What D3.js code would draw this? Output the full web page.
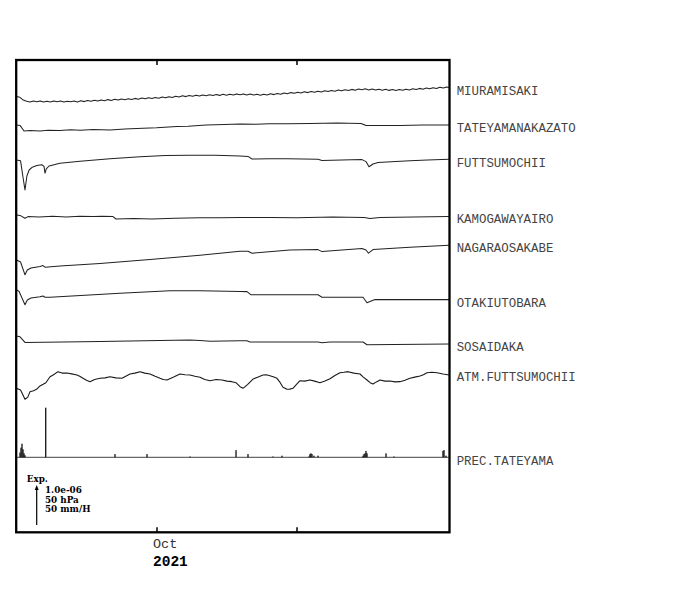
<!DOCTYPE html>
<html><head><meta charset="utf-8">
<script src="https://cdn.jsdelivr.net/npm/d3@7"></script>
<style>
html,body{margin:0;padding:0;background:#fff;}
svg{display:block;}
</style></head>
<body>
<div id="chart"></div>
<script>
// ---------- DATA ----------
const startDate = new Date(2021, 7, 31);   // Aug 31 2021
const spanDays = 95.88;
const tickDates = [new Date(2021, 9, 1), new Date(2021, 10, 1)];
const tickLabels = ["Oct", ""];
const yearLabel = "2021";

const stationNames = ["MIURAMISAKI","TATEYAMANAKAZATO","FUTTSUMOCHII","KAMOGAWAYAIRO",
  "NAGARAOSAKABE","OTAKIUTOBARA","SOSAIDAKA","ATM.FUTTSUMOCHII","PREC.TATEYAMA"];

// strain, units of 1e-8, sampled every 0.75 day
const miuraStep = 0.75;
const miuraVals = [0,-2,-9,-12,-13.5,-11.5,-13,-11,-14,-12,-13.5,-11,-13,-11.5,-14,-12,-13,-11.5,
  -13.5,-10.8,-12.8,-10,-12,-9.5,-11.5,-8.5,-10.5,-7.8,-9.8,-7,-9,-6.2,-8.2,-5.4,-7.4,-4.7,
  -6.7,-3.9,-5.9,-3.1,-5.1,-2.3,-4.3,-1.5,-3.4,-0.5,-2.4,0.5,-1.4,1.6,-0.3,2.6,0.7,3.4,
  1.3,3.9,1.8,4.4,2.3,4.9,2.8,5.4,3.3,5.9,3.8,6.5,4.3,6.5,3.9,6.1,3.6,5.8,3.2,5.6,
  3.7,6.6,4.7,7.6,5.8,8.7,6.8,9.7,7.9,10.8,8.8,11.7,9.7,12.5,10.6,13.4,11.4,14.3,12.3,
  15.2,13.2,16,14.1,16.9,14.9,17.8,15.8,18.6,16.7,19.1,16.5,18.7,16.1,18.3,15.7,17.9,15.3,
  17.5,14.9,17.5,15.6,18.4,16.5,19.4,17.4,20.3,18.3,21.2,19.3,22.1,20.1,23,21,23.8,22];

// [day offset, strain 1e-8]
const tateyama = [[0,0],[0.78,-1],[1.66,-15],[3.0,-14],[5.2,-15],[7,-13],[9.6,-14],[12,-12],[14.1,-13],[17,-11],[20.7,-12.5],
  [24,-10],[28,-8],[31,-7],[35.5,-4],[38,-3],[42,0],[46,1],[49.5,2.5],[53,2],[56,3],[60,3],[65,4],[71,5],[76.3,4],
  [77.4,-1.5],[81,-1],[85,-1],[90,0],[95.8,0]];
const futtsu = [[0,0],[0.9,-2],[1.4,-40],[1.88,-75],[2.3,-40],[2.8,-25],[3.5,-18],[4.5,-14],[5.6,-12],[6.1,-16],
  [6.31,-33],[6.6,-22],[7.2,-15],[9.63,-8],[14.06,-3],[20.7,3],[27.35,8],[33,11],[38.42,12],[44,12],[49.49,10],
  [51.26,9],[52.15,2.5],[56,3],[60,3],[66.76,2],[67.64,-1],[72,0],[76.51,1],[77.39,-4],[78.05,-17],[78.94,-10],
  [80.05,-6],[84,-4],[87.13,-2],[91,0],[95.8,2]];
const kamogawa = [[0,0],[0.78,-1],[1.88,-8],[2.55,-4],[5,-5],[8,-3],[11,-5],[14,-3],[17,-4],[19,-3],[21.37,-4],
  [22.03,-10],[26,-9],[30,-10],[35,-8],[40.63,-7],[45,-7],[49.49,-6],[56,-6],[62,-7],[70,-5],[77,-6],[78.28,-9],
  [80.49,-6],[88,-5],[95.8,-4]];
const nagara = [[0,0],[0.9,-5],[1.88,-37],[2.4,-25],[3.2,-20],[5.2,-16],[5.87,-14],[6.31,-18],[9.63,-15],[18.49,-9],
  [29.56,1],[40.63,12],[49.49,22],[51.26,22],[52.15,17],[60.56,25],[66.76,26],[67.64,21],[76.51,29],[77.39,25],
  [77.94,17],[78.94,26],[87.13,32],[95.8,37]];
const otaki = [[0,0],[0.55,-3],[1.88,-37],[2.4,-25],[3.2,-20],[5.2,-17],[5.87,-15],[6.31,-18],[7.42,-18],[22.92,-8],
  [33.99,-2],[40.63,-2],[49.49,-4],[51.04,-4],[51.93,-12],[66.76,-12],[67.64,-18],[76.73,-18],[77.61,-32],
  [79.38,-24],[95.8,-24]];
const sosai = [[0,0],[0.78,-2],[1.88,-16],[18.49,-14],[38.42,-10],[40.63,-11],[42.85,-13],[49.49,-12],[51.04,-12],
  [51.7,-15],[66.76,-15],[67.64,-17],[69.42,-15],[76.73,-15],[77.61,-22],[95.8,-20]];
// air pressure, hPa
const atm = [[0,1010],[0.9,1008],[1.88,996.3],[2.5,999],[2.99,1005.8],[3.8,1007],[4.5,1009],[5.2,1012.9],[5.9,1015],
  [6.5,1017],[7.42,1024.5],[8.2,1027],[9.19,1030.8],[10.1,1029],[11.18,1029.1],[12.2,1028],[13.4,1026.6],[14.0,1025],
  [14.72,1022.5],[15.5,1020],[16.28,1018.3],[17.3,1021],[18.49,1022.5],[19.6,1023],[20.7,1024.5],[22.0,1023],
  [23.36,1022.5],[24.2,1025],[25.13,1027.9],[26.2,1029],[27.35,1030.8],[28.4,1029],[29.56,1027.9],[30.7,1025],
  [31.78,1022.5],[32.5,1021],[33.33,1020.4],[34.8,1024],[36.2,1027.9],[37.3,1027],[38.42,1026.6],[39.5,1025],
  [40.63,1023.8],[41.7,1021],[42.85,1019.5],[44.2,1021],[45.5,1020.4],[46.6,1019],[47.72,1018.3],[48.6,1017],
  [49.5,1012],[50.16,1010],[51.2,1015],[52.37,1021.6],[53.5,1024],[54.58,1026.6],[55.3,1027],[56.13,1025.8],
  [57.0,1024],[57.68,1022.5],[58.4,1017],[59.01,1011.3],[59.89,1008.8],[60.5,1009],[61.22,1010],[62.0,1015],
  [62.77,1019.5],[63.8,1019],[64.98,1020.4],[66.0,1019],[67.2,1017],[68.3,1019],[69.42,1022],[70.5,1026],
  [71.63,1029.5],[72.5,1030],[73.4,1030.8],[74.7,1029],[76.06,1027.9],[76.8,1024],[77.61,1020.4],[78.3,1017],
  [78.94,1015.4],[79.7,1018],[80.49,1020.4],[81.6,1019],[82.7,1019.1],[83.8,1018],[84.92,1018.3],[86.0,1020],
  [87.13,1022.5],[88.2,1024],[89.35,1025.4],[90.1,1027],[90.9,1029.5],[92.0,1030],[93.11,1029.5],[94.44,1027.9],
  [95.77,1026.6]];
// precipitation, mm/h
const prec = [[0.78,6],[1.0,12],[1.22,17],[1.44,10],[1.66,5],[1.88,2.5],[6.47,62],[21.81,4],[28.9,4],[38.42,1],
  [48.61,9],[51.26,4],[56.8,1],[58.79,2],[64.76,1],[64.98,4],[65.2,5],[65.43,4],[65.87,2],[66.76,2],[76.73,2],
  [76.95,4],[77.17,5],[77.39,8],[77.61,5],[81.82,5],[83.59,1],[94.44,8],[94.66,9],[95.1,2]];

const scaleLabels = ["Exp.", "1.0e-06", "50 hPa", "50 mm/H"];

// ---------- LAYOUT ----------
const W = 700, H = 590;
const frame = {x0: 16.2, x1: 449.5, y0: 60, y1: 532.3};
const laneBase = [96.5, 125, 160, 215, 260, 290, 336, 388.3];
const labelY = [91.7, 128.5, 164, 220, 248.5, 303.5, 347.5, 377.5, 461.5];
const precBase = 457.3;
const DAY = 86400000;
const toDate = d => new Date(startDate.getTime() + d * DAY);

const svg = d3.select("#chart").append("svg").attr("width", W).attr("height", H);

const x = d3.scaleTime().domain([startDate, toDate(spanDays)]).range([16.5, 449.5]);
const yStrain = d3.scaleLinear().domain([0, 100]).range([0, -40]);   // 1e-6 -> 40px
const yPress = d3.scaleLinear().domain([0, 50]).range([0, -40]);     // 50 hPa -> 40px
const yPrec = d3.scaleLinear().domain([0, 50]).range([0, -40]);      // 50 mm/H -> 40px

svg.append("clipPath").attr("id", "clip").append("rect")
  .attr("x", frame.x0).attr("y", frame.y0).attr("width", frame.x1 - frame.x0).attr("height", frame.y1 - frame.y0);

const plot = svg.append("g").attr("clip-path", "url(#clip)");

const strainSeries = [
  miuraVals.map((v, i) => [i * miuraStep, v]),
  tateyama, futtsu, kamogawa, nagara, otaki, sosai
];

strainSeries.forEach((s, i) => {
  const line = d3.line().x(d => x(toDate(d[0]))).y(d => laneBase[i] + yStrain(d[1]));
  plot.append("path").datum(s).attr("d", line)
    .attr("fill", "none").attr("stroke", "#222").attr("stroke-width", 1.05)
    .attr("stroke-linejoin", "round");
});

const p0 = atm[0][1];
const atmLine = d3.line().x(d => x(toDate(d[0]))).y(d => laneBase[7] + yPress(d[1] - p0));
plot.append("path").datum(atm).attr("d", atmLine)
  .attr("fill", "none").attr("stroke", "#1a1a1a").attr("stroke-width", 1.1).attr("stroke-linejoin", "round");

// precipitation
plot.append("line").attr("x1", frame.x0).attr("x2", frame.x1).attr("y1", precBase).attr("y2", precBase)
  .attr("stroke", "#444").attr("stroke-width", 1);
plot.selectAll("rect.prec").data(prec).enter().append("rect").attr("class", "prec")
  .attr("x", d => x(toDate(d[0])) - 0.65).attr("width", 1.3)
  .attr("y", d => precBase + yPrec(d[1])).attr("height", d => -yPrec(d[1]))
  .attr("fill", "#111");

// frame
svg.append("rect").attr("x", frame.x0).attr("y", frame.y0)
  .attr("width", frame.x1 - frame.x0).attr("height", frame.y1 - frame.y0)
  .attr("fill", "none").attr("stroke", "#000").attr("stroke-width", 2.3);

// axes ticks
const axTop = svg.append("g").attr("transform", `translate(0,${frame.y0})`)
  .call(d3.axisTop(x).tickValues(tickDates).tickSize(-5).tickFormat(""));
const axBot = svg.append("g").attr("transform", `translate(0,${frame.y1})`)
  .call(d3.axisBottom(x).tickValues(tickDates).tickSize(-5).tickFormat(""));
[axTop, axBot].forEach(a => {
  a.select(".domain").remove();
  a.selectAll(".tick line").attr("stroke", "#000").attr("stroke-width", 1.5);
});

// tick labels
tickDates.forEach((d, i) => {
  if (!tickLabels[i]) return;
  svg.append("text").attr("x", x(d) - 3.5).attr("y", 544).attr("dominant-baseline", "central")
    .attr("font-family", "Liberation Mono, monospace").attr("font-size", 13.5).attr("fill", "#333")
    .text(tickLabels[i]);
});
svg.append("text").attr("x", x(tickDates[0]) - 3.5).attr("y", 562).attr("dominant-baseline", "central")
  .attr("font-family", "Liberation Mono, monospace").attr("font-weight", "bold").attr("font-size", 14.5)
  .attr("fill", "#000").text(yearLabel);

// station labels
stationNames.forEach((n, i) => {
  svg.append("text").attr("x", 456.7).attr("y", labelY[i]).attr("dominant-baseline", "central")
    .attr("font-family", "Liberation Mono, monospace").attr("font-size", 12.4).attr("fill", "#444")
    .text(n);
});

// scale legend
const sf = {fontFamily: "DejaVu Serif, serif", size: 8.8};
svg.append("text").attr("x", 26.7).attr("y", 479).attr("dominant-baseline", "central")
  .attr("font-family", sf.fontFamily).attr("font-weight", "bold").attr("font-size", sf.size).text(scaleLabels[0]);
[490, 499.5, 509].forEach((yy, i) => {
  svg.append("text").attr("x", 45).attr("y", yy).attr("dominant-baseline", "central")
    .attr("font-family", sf.fontFamily).attr("font-weight", "bold").attr("font-size", sf.size).text(scaleLabels[i + 1]);
});
const arrowBottom = 525;
const arrowTop = arrowBottom + yStrain(100);
svg.append("line").attr("x1", 36.7).attr("x2", 36.7).attr("y1", arrowBottom).attr("y2", arrowTop + 3)
  .attr("stroke", "#000").attr("stroke-width", 1.2);
svg.append("path").attr("d", `M${36.7},${arrowTop} L${34.7},${arrowTop + 5} L${38.7},${arrowTop + 5} Z`).attr("fill", "#000");
</script>
</body></html>
